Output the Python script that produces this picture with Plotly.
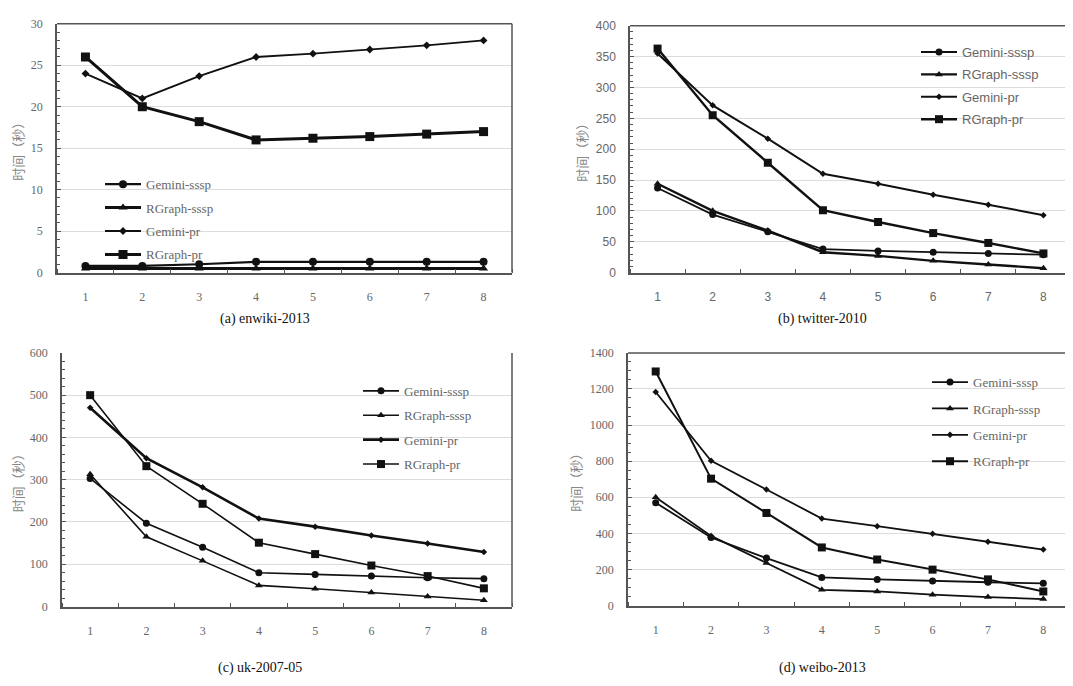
import plotly.graph_objects as go

threads = [1, 2, 3, 4, 5, 6, 7, 8]
series_names = ["Gemini-sssp", "RGraph-sssp", "Gemini-pr", "RGraph-pr"]

# (a) enwiki-2013
a_gem_sssp = [0.8, 0.8, 1.0, 1.3, 1.3, 1.3, 1.3, 1.3]
a_rg_sssp = [0.5, 0.5, 0.5, 0.5, 0.5, 0.5, 0.5, 0.5]
a_gem_pr = [24.0, 21.0, 23.7, 26.0, 26.4, 26.9, 27.4, 28.0]
a_rg_pr = [26.0, 20.0, 18.2, 16.0, 16.2, 16.4, 16.7, 17.0]

# (b) twitter-2010
b_gem_sssp = [137, 94, 66, 38, 35, 33, 31, 29]
b_rg_sssp = [144, 100, 68, 33, 27, 19, 13, 7]
b_gem_pr = [355, 271, 217, 160, 144, 126, 110, 93]
b_rg_pr = [363, 255, 178, 101, 82, 64, 48, 31]

# (c) uk-2007-05
c_gem_sssp = [303, 197, 140, 80, 76, 72, 68, 66]
c_rg_sssp = [313, 165, 108, 50, 42, 33, 24, 15]
c_gem_pr = [470, 351, 282, 208, 189, 168, 149, 129]
c_rg_pr = [500, 332, 243, 151, 124, 97, 72, 43]

# (d) weibo-2013
d_gem_sssp = [570, 377, 263, 156, 145, 136, 129, 123]
d_rg_sssp = [600, 386, 236, 87, 78, 60, 47, 36]
d_gem_pr = [1183, 802, 643, 482, 440, 398, 353, 310]
d_rg_pr = [1297, 703, 513, 322, 255, 199, 145, 78]

captions = ["(a) enwiki-2013", "(b) twitter-2010", "(c) uk-2007-05", "(d) weibo-2013"]
y_title = "时间（秒）"

OFF = 8  # default page body margin
W, H = 1073 - OFF, 686 - OFF
def px_x(t):
    return (t - OFF) / W
def px_y(t):
    return 1 - (t - OFF) / H

SERIF = "Liberation Serif, Times New Roman, serif"
SANS = "Liberation Sans, Arial, sans-serif"
CJK = "Noto Sans CJK SC, sans-serif"

symbols = ["circle", "triangle-up", "diamond", "square"]

panels = [
    dict(data=[a_gem_sssp, a_rg_sssp, a_gem_pr, a_rg_pr], widths=[2.2, 3, 1.8, 3],
         sizes=[8, 8, 6, 9],
         xdom=[px_x(57), px_x(512)], ydom=[px_y(271), px_y(17)], yr=[0, 30], dt=5,
         font=SERIF, topline=True, legend_xy=(100, 165.5), gap=3.5,
         cap_xy=(265, 318)),
    dict(data=[b_gem_sssp, b_rg_sssp, b_gem_pr, b_rg_pr], widths=[1.8, 2.4, 2, 2.4],
         sizes=[7, 7, 5, 8],
         xdom=[px_x(630), px_x(1071)], ydom=[px_y(271), px_y(19)], yr=[0, 400], dt=50,
         font=SANS, topline=True, legend_xy=(916, 30.5), gap=2.5,
         cap_xy=(822, 318)),
    dict(data=[c_gem_sssp, c_rg_sssp, c_gem_pr, c_rg_pr], widths=[1.6, 1.6, 2.6, 1.6],
         sizes=[7, 7, 5, 8],
         xdom=[px_x(62), px_x(512)], ydom=[px_y(612), px_y(353)], yr=[0, 600], dt=100,
         font=SERIF, topline=False, legend_xy=(358, 376.5), gap=4.5,
         cap_xy=(260, 675)),
    dict(data=[d_gem_sssp, d_rg_sssp, d_gem_pr, d_rg_pr], widths=[1.8, 1.8, 1.8, 2],
         sizes=[7, 7, 5, 8],
         xdom=[px_x(628), px_x(1071)], ydom=[px_y(611), px_y(353)], yr=[0, 1400], dt=200,
         font=SERIF, topline=True, legend_xy=(927, 367.5), gap=6.5,
         cap_xy=(822, 675)),
]

fig = go.Figure()
layout = dict(
    width=W, height=H, margin=dict(l=0, r=0, t=0, b=0),
    paper_bgcolor="white", plot_bgcolor="white", annotations=[], shapes=[],
)

for i, p in enumerate(panels):
    n = "" if i == 0 else str(i + 1)
    leg = "legend" + n
    for k in range(4):
        fig.add_trace(go.Scatter(
            x=threads, y=p["data"][k], mode="lines+markers",
            name=series_names[k],
            line=dict(color="#111111", width=p["widths"][k]),
            marker=dict(symbol=symbols[k], size=p["sizes"][k], color="#111111"),
            xaxis="x" + n, yaxis="y" + n, legend=leg, legendgroup=f"g{i}{k}",
            cliponaxis=False,
        ))
    layout["xaxis" + n] = dict(
        domain=p["xdom"], anchor="y" + n, range=[0.5, 8.5],
        tickmode="array", tickvals=threads, ticktext=[str(t) for t in threads],
        ticks="", showgrid=False, zeroline=False,
        showline=True, linecolor="#555555", linewidth=1.5, mirror=False,
        tickfont=dict(family=p["font"], size=12, color="#666666"),
        ticklabelstandoff=12,
        minor=dict(tickmode="linear", tick0=0.5, dtick=1, ticks="inside", ticklen=4,
                   tickcolor="#555555", showgrid=False),
        fixedrange=True,
    )
    layout["yaxis" + n] = dict(
        domain=p["ydom"], anchor="x" + n, range=p["yr"], dtick=p["dt"],
        ticks="inside", ticklen=4, tickcolor="#555555",
        showgrid=True, gridcolor="#dcdcdc", gridwidth=1, zeroline=False,
        showline=True, linecolor="#555555", linewidth=1.5,
        tickfont=dict(family=p["font"], size=12, color="#666666"),
        ticklabelstandoff=10,
        minor=dict(nticks=5, ticks="inside", ticklen=3, tickcolor="#555555", showgrid=False),
        title=dict(text=y_title, font=dict(family=CJK, size=13, color="#888888"), standoff=5),
        fixedrange=True,
    )
    x0, x1 = p["xdom"]
    y0, y1 = p["ydom"]
    if p["topline"]:
        layout["shapes"].append(dict(type="line", xref="paper", yref="paper",
                                     x0=x0, x1=x1, y0=y1, y1=y1,
                                     line=dict(color="#555555", width=1.5)))
    if i in (0, 2):
        layout["shapes"].append(dict(type="line", xref="paper", yref="paper",
                                     x0=x1, x1=x1, y0=y0, y1=y1,
                                     line=dict(color="#555555", width=1.5)))
    lx, ly = p["legend_xy"]
    layout[leg] = dict(
        x=px_x(lx), y=px_y(ly), xanchor="left", yanchor="top",
        bgcolor="rgba(0,0,0,0)", borderwidth=0, itemwidth=36,
        font=dict(family=p["font"], size=13, color="#666666"),
        tracegroupgap=p["gap"], itemclick=False, itemdoubleclick=False,
    )
    cx, cy = p["cap_xy"]
    layout["annotations"].append(dict(
        text=captions[i], x=px_x(cx), y=px_y(cy), xref="paper", yref="paper",
        showarrow=False, xanchor="center", yanchor="middle",
        font=dict(family=SERIF, size=14, color="#111111"),
    ))

fig.update_layout(**layout)
fig.write_html("out.html")
